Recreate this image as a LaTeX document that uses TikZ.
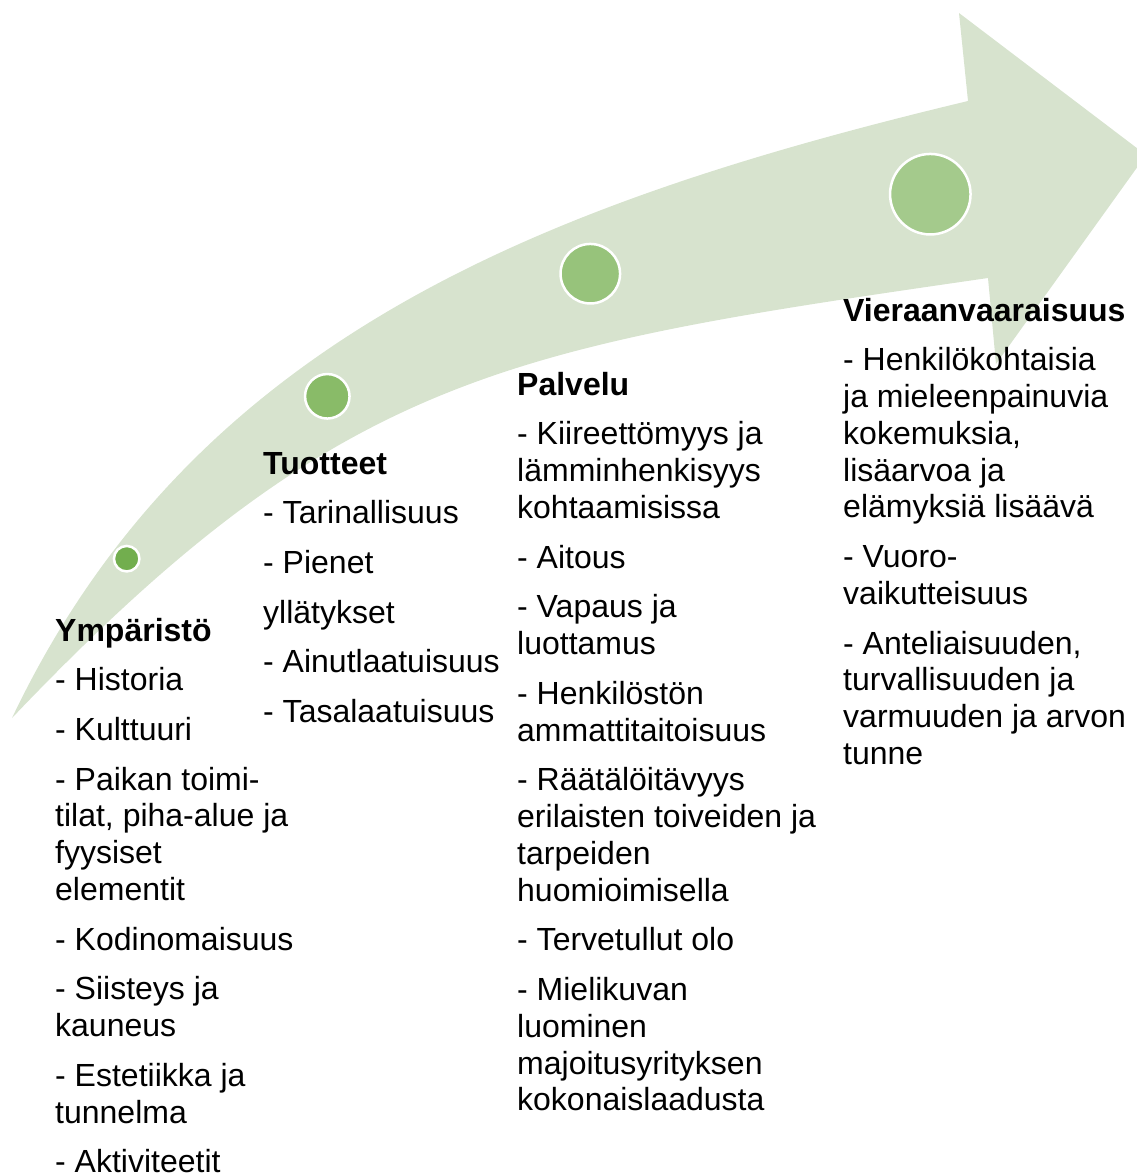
\documentclass[tikz,border=0pt]{standalone}
\usepackage{fontspec}
\setmainfont{Liberation Sans}

\definecolor{arrowfill}{RGB}{215,227,206}
\definecolor{dotA}{RGB}{114,174,78}
\definecolor{dotB}{RGB}{137,187,104}
\definecolor{dotC}{RGB}{151,195,123}
\definecolor{dotD}{RGB}{164,202,140}

% one column of text: first line on the node's baseline, items as paragraphs
\newcommand{\columnbody}[1]{\parbox[t]{420pt}{\raggedright\setlength{\parskip}{12.9pt}#1}}

\tikzset{
  stagedot/.style={circle, draw=white, line width=2.5pt, inner sep=0pt},
  coltext/.style={inner sep=0pt, anchor=base west, font=\fontsize{32}{36.8}\selectfont}
}

\begin{document}
\begin{tikzpicture}[x=1pt, y=-1pt]
\useasboundingbox (0,0) rectangle (1136,1173);

% curved upward arrow
\fill[arrowfill] (12,718) .. controls (192,340) and (538,204) .. (968,101)
  -- (959,13) -- (1146,155) -- (996,364) -- (988,278)
  .. controls (508,347.6) and (342,371.5) .. (12,718) -- cycle;

% stage markers, growing along the arrow
\node[stagedot, fill=dotA, minimum size=25.5pt] (d1) at (126.7,558.7) {};
\node[stagedot, fill=dotB, minimum size=44.5pt] (d2) at (327.3,396.3) {};
\node[stagedot, fill=dotC, minimum size=59.5pt] (d3) at (590.3,273.7) {};
\node[stagedot, fill=dotD, minimum size=80.5pt] (d4) at (930.3,194.2) {};

% text columns
\node[coltext] (env) at (55,641) {\columnbody{%
\textbf{Ympäristö}\par
- Historia\par
- Kulttuuri\par
- Paikan toimi-\\tilat, piha-alue ja\\fyysiset\\elementit\par
- Kodinomaisuus\par
- Siisteys ja\\kauneus\par
- Estetiikka ja\\tunnelma\par
- Aktiviteetit}};

\node[coltext] (prod) at (263,474) {\columnbody{%
\textbf{Tuotteet}\par
- Tarinallisuus\par
- Pienet\par
yllätykset\par
- Ainutlaatuisuus\par
- Tasalaatuisuus}};

\node[coltext] (serv) at (517,395) {\columnbody{%
\textbf{Palvelu}\par
- Kiireettömyys ja\\lämminhenkisyys\\kohtaamisissa\par
- Aitous\par
- Vapaus ja\\luottamus\par
- Henkilöstön\\ammattitaitoisuus\par
- Räätälöitävyys\\erilaisten toiveiden ja\\tarpeiden\\huomioimisella\par
- Tervetullut olo\par
- Mielikuvan\\luominen\\majoitusyrityksen\\kokonaislaadusta}};

\node[coltext] (host) at (843,321) {\columnbody{%
\textbf{Vieraanvaaraisuus}\par
- Henkilökohtaisia\\ja mieleenpainuvia\\kokemuksia,\\lisäarvoa ja\\elämyksiä lisäävä\par
- Vuoro-\\vaikutteisuus\par
- Anteliaisuuden,\\turvallisuuden ja\\varmuuden ja arvon\\tunne}};
\end{tikzpicture}
\end{document}
